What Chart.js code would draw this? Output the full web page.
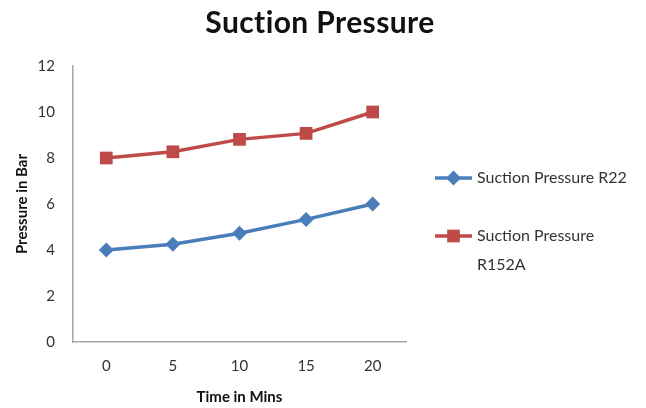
<!DOCTYPE html>
<html>
<head>
<meta charset="utf-8">
<script src="https://cdn.jsdelivr.net/npm/chart.js@4/dist/chart.umd.min.js"></script>
<style>
  html, body { margin: 0; padding: 0; background: #ffffff; }
  #wrap { width: 646px; height: 408px; }
</style>
</head>
<body>
<div id="wrap"><canvas id="chart" width="646" height="408"></canvas></div>
<script>
// Time (minutes) on the x axis
const times = ['0', '5', '10', '15', '20'];
// Suction pressure readings in bar
const pressureR22 = [4.0, 4.25, 4.73, 5.33, 6.0];
const pressureR152A = [8.0, 8.27, 8.81, 9.07, 10.0];
// Y axis range and step
const yMin = 0, yMax = 12, yStep = 2;
const chartTitle = 'Suction Pressure';

const FONT = 'Lato, "Open Sans", "DejaVu Sans", sans-serif';
const BLUE = '#4A7EBB';
const RED = '#BE4B48';

// Title centred across the whole canvas (the plot sits left of the legend)
const pageTitle = {
  id: 'pageTitle',
  afterDraw(chart) {
    const ctx = chart.ctx;
    ctx.save();
    ctx.font = 'bold 30px ' + FONT;
    if ('letterSpacing' in ctx) ctx.letterSpacing = '0.4px';
    ctx.fillStyle = '#111111';
    ctx.textAlign = 'center';
    ctx.textBaseline = 'middle';
    ctx.fillText(chartTitle, 320, 23);
    ctx.restore();
  }
};

// Legend drawn on the right with word wrapping, like a spreadsheet chart
const sideLegend = {
  id: 'sideLegend',
  afterDraw(chart) {
    const ctx = chart.ctx;
    const x0 = 435, lineLen = 37, textX = 477;
    const rows = [178, 236];
    const maxW = 160;
    ctx.save();
    ctx.font = '16px ' + FONT;
    ctx.textBaseline = 'middle';
    chart.data.datasets.forEach((ds, i) => {
      const y = rows[i];
      ctx.strokeStyle = ds.borderColor;
      ctx.lineWidth = 3.5;
      ctx.beginPath();
      ctx.moveTo(x0, y);
      ctx.lineTo(x0 + lineLen, y);
      ctx.stroke();
      ctx.fillStyle = ds.backgroundColor;
      const cx = x0 + lineLen / 2, r = ds.pointRadius;
      const s = Math.SQRT1_2 * r;
      ctx.beginPath();
      if (ds.pointStyle === 'rectRot') {
        ctx.moveTo(cx, y - r); ctx.lineTo(cx + r, y); ctx.lineTo(cx, y + r); ctx.lineTo(cx - r, y);
        ctx.closePath();
      } else {
        ctx.rect(cx - s, y - s, 2 * s, 2 * s);
      }
      ctx.fill();
      // wrap words to the space left on the right
      const words = ds.label.split(' ');
      const lines = [];
      let cur = '';
      words.forEach(w => {
        const t = cur ? cur + ' ' + w : w;
        if (ctx.measureText(t).width > maxW && cur) { lines.push(cur); cur = w; }
        else cur = t;
      });
      lines.push(cur);
      ctx.fillStyle = '#333333';
      lines.forEach((ln, k) => ctx.fillText(ln, textX, y + k * 29));
    });
    ctx.restore();
  }
};

new Chart(document.getElementById('chart'), {
  type: 'line',
  data: {
    labels: times,
    datasets: [
      {
        label: 'Suction Pressure R22',
        data: pressureR22,
        borderColor: BLUE,
        backgroundColor: BLUE,
        borderWidth: 3.5,
        pointStyle: 'rectRot',
        pointRadius: 7.5,
        pointBorderWidth: 0,
        tension: 0
      },
      {
        label: 'Suction Pressure R152A',
        data: pressureR152A,
        borderColor: RED,
        backgroundColor: RED,
        borderWidth: 3.5,
        pointStyle: 'rect',
        pointRadius: 9,
        pointBorderWidth: 0,
        tension: 0
      }
    ]
  },
  options: {
    responsive: false,
    animation: false,
    devicePixelRatio: 1,
    layout: { padding: { left: 0, right: 240, top: 66, bottom: 0 } },
    plugins: {
      legend: { display: false },
      tooltip: { enabled: false },
      title: { display: false }
    },
    scales: {
      x: {
        type: 'category',
        offset: true,
        grid: { display: false, drawTicks: false },
        border: { color: '#A6A6A6', width: 1.5 },
        ticks: { color: '#333333', font: { family: FONT, size: 15 }, padding: 15 },
        title: {
          display: true,
          text: 'Time in Mins',
          color: '#111111',
          font: { family: FONT, size: 15, weight: 'bold' },
          padding: { top: 4, bottom: 2 }
        },
        afterFit(scale) { scale.height = 66; }
      },
      y: {
        min: yMin,
        max: yMax,
        grid: { display: false, drawTicks: false },
        border: { color: '#A6A6A6', width: 1.5 },
        ticks: { stepSize: yStep, color: '#333333', font: { family: FONT, size: 15 }, padding: 18 },
        title: {
          display: true,
          text: 'Pressure in Bar',
          color: '#111111',
          font: { family: FONT, size: 15, weight: 'bold' },
          padding: { top: 13, bottom: 4 }
        },
        afterFit(scale) { scale.width = 73; }
      }
    }
  },
  plugins: [pageTitle, sideLegend]
});
</script>
</body>
</html>
